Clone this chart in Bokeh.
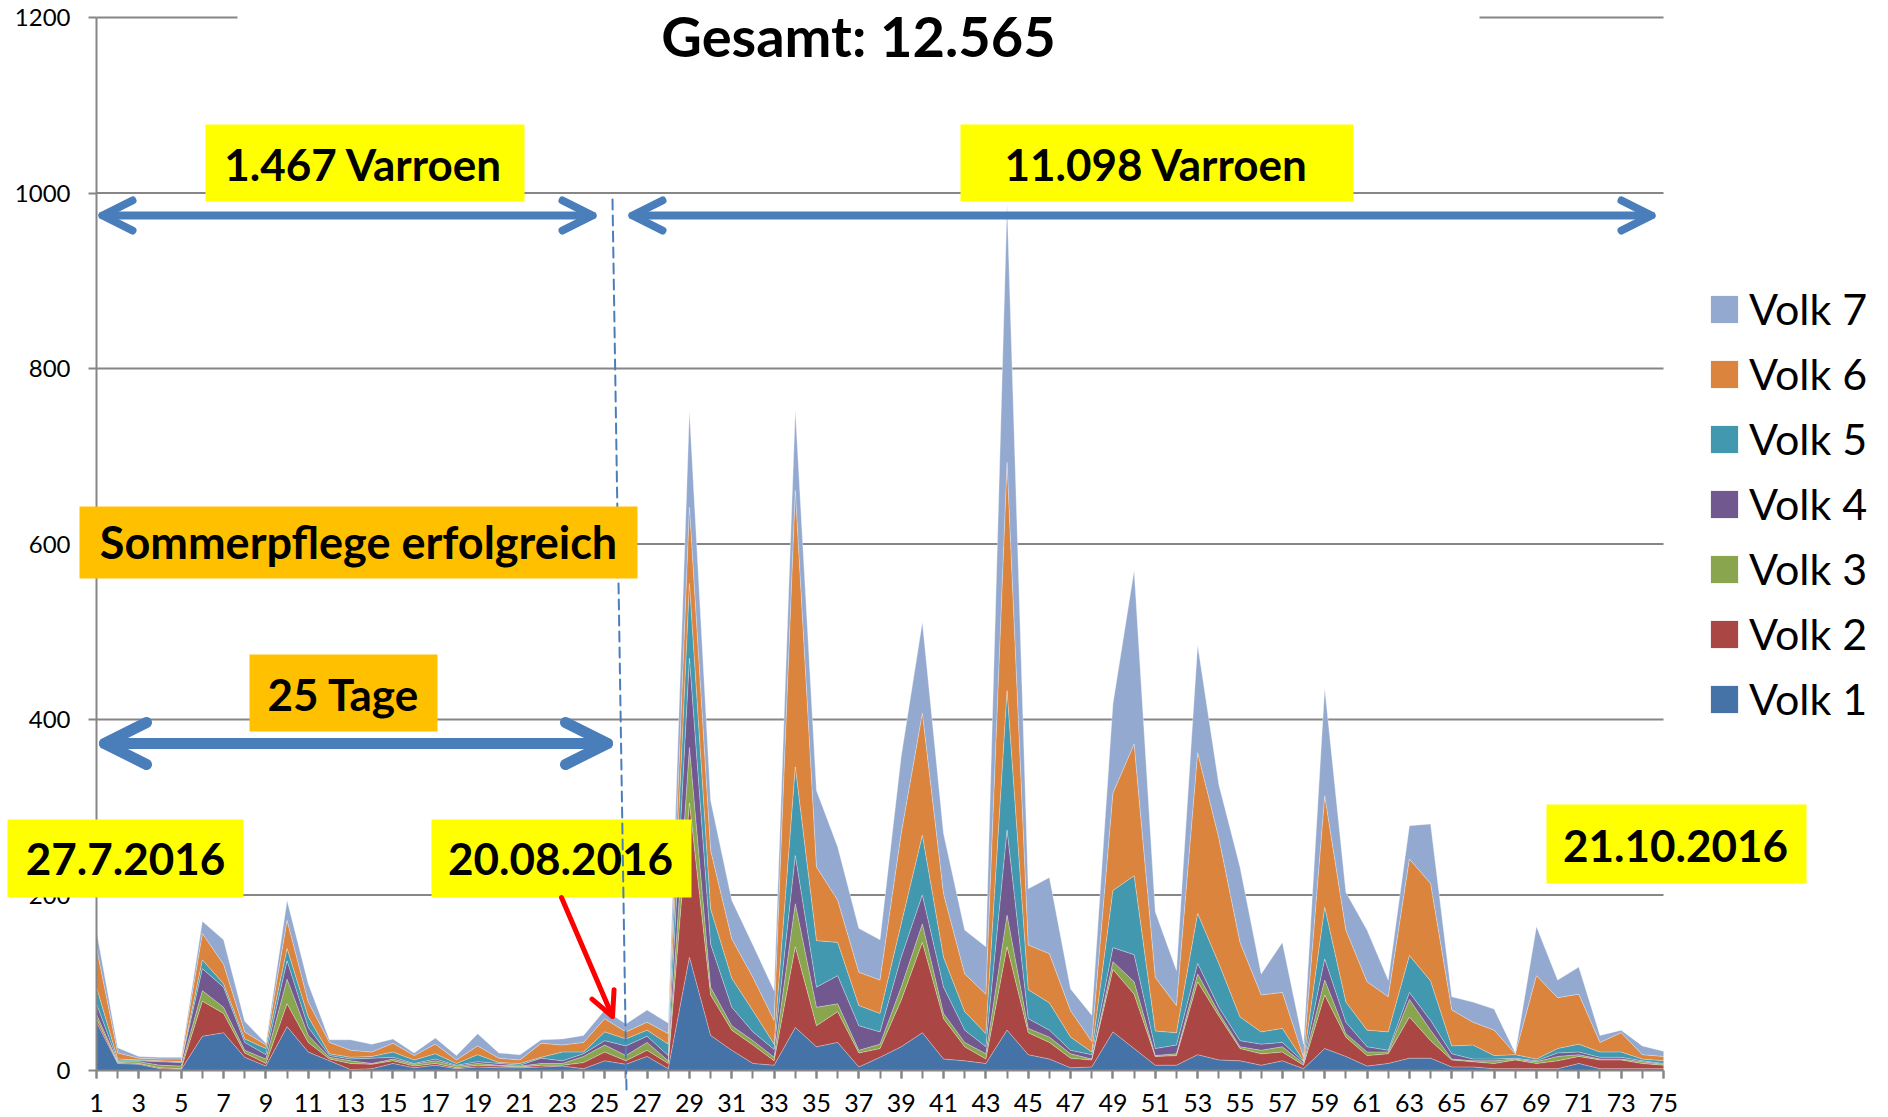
from bokeh.plotting import figure
from bokeh.models import (ColumnDataSource, Range1d, FixedTicker, Label, BoxAnnotation,
                          Arrow, OpenHead, Legend, LegendItem)
from bokeh.embed import file_html
from bokeh.resources import INLINE

# ---------------- data ----------------
days = list(range(1, 76))
tick_days = list(range(1, 76, 2))
y_ticks = [0, 200, 400, 600, 800, 1000, 1200]

volk1 = [55, 8, 7, 2, 1, 39, 43, 15, 5, 50,
         21, 11, 1, 2, 8, 3, 6, 2, 4, 3,
         3, 4, 5, 2, 11, 7, 16, 2, 129, 40,
         23, 8, 6, 49, 27, 32, 4, 15, 27, 43,
         13, 11, 8, 46, 18, 13, 3, 4, 44, 25,
         6, 6, 18, 12, 11, 6, 11, 2, 25, 16,
         5, 8, 14, 14, 4, 4, 2, 2, 2, 2,
         8, 2, 2, 2, 2]
volk2 = [4, 1, 1, 1, 1, 40, 22, 5, 3, 26,
         11, 2, 7, 5, 3, 2, 2, 1, 2, 2,
         1, 2, 1, 7, 10, 4, 7, 6, 176, 46,
         23, 21, 5, 92, 24, 35, 16, 10, 53, 103,
         46, 16, 5, 95, 25, 19, 11, 8, 71, 62,
         10, 11, 83, 50, 14, 13, 10, 4, 61, 22,
         12, 11, 47, 20, 8, 6, 6, 10, 6, 9,
         8, 10, 10, 6, 4]
volk3 = [5, 1, 2, 3, 3, 12, 7, 3, 5, 28,
         8, 2, 3, 1, 2, 2, 3, 2, 2, 1,
         1, 2, 2, 7, 8, 6, 9, 3, 63, 9,
         5, 5, 4, 49, 21, 9, 3, 5, 15, 21,
         6, 5, 6, 36, 5, 6, 5, 1, 9, 14,
         1, 2, 9, 4, 2, 4, 6, 2, 17, 4,
         4, 2, 20, 12, 1, 1, 3, 1, 2, 5,
         2, 1, 1, 2, 1]
volk4 = [12, 1, 1, 4, 4, 25, 23, 9, 5, 21,
         9, 2, 2, 6, 2, 1, 2, 1, 2, 2,
         1, 6, 3, 3, 5, 11, 7, 6, 102, 49,
         21, 10, 9, 55, 23, 32, 28, 14, 34, 33,
         30, 14, 8, 97, 11, 8, 4, 5, 16, 31,
         8, 10, 12, 6, 7, 7, 5, 2, 24, 13,
         6, 2, 8, 11, 6, 2, 2, 1, 1, 4,
         3, 2, 2, 1, 1]
volk5 = [19, 2, 1, 1, 1, 10, 4, 4, 7, 14,
         12, 2, 2, 2, 6, 4, 6, 2, 8, 1,
         2, 1, 10, 2, 10, 8, 7, 13, 85, 40,
         33, 24, 6, 101, 53, 38, 23, 21, 38, 68,
         34, 21, 15, 159, 33, 31, 15, 3, 65, 90,
         20, 14, 57, 50, 27, 14, 16, 1, 59, 23,
         19, 21, 42, 45, 9, 16, 4, 4, 2, 5,
         9, 6, 6, 2, 3]
volk6 = [45, 7, 2, 2, 3, 30, 22, 8, 4, 32,
         17, 13, 8, 5, 10, 5, 11, 4, 10, 5,
         4, 16, 8, 11, 15, 8, 9, 12, 87, 67,
         45, 38, 27, 315, 84, 48, 38, 38, 103, 139,
         72, 43, 45, 260, 51, 56, 30, 12, 111, 150,
         61, 31, 183, 143, 85, 42, 41, 4, 127, 82,
         55, 40, 110, 111, 41, 26, 29, 1, 95, 58,
         57, 11, 22, 5, 5]
volk7 = [19, 6, 2, 2, 2, 14, 28, 12, 2, 23,
         21, 3, 12, 9, 5, 3, 7, 5, 14, 6,
         6, 4, 7, 8, 10, 9, 14, 12, 110, 57,
         44, 37, 34, 92, 87, 61, 50, 46, 88, 104,
         69, 50, 54, 295, 64, 87, 25, 30, 102, 198,
         75, 40, 123, 61, 86, 24, 57, 15, 123, 43,
         59, 19, 38, 68, 15, 23, 24, 1, 56, 20,
         31, 8, 3, 10, 6]

series_names = ["Volk 1", "Volk 2", "Volk 3", "Volk 4", "Volk 5", "Volk 6", "Volk 7"]
series_keys = ["v1", "v2", "v3", "v4", "v5", "v6", "v7"]
colors = ["#4572A7", "#AA4643", "#89A54E", "#71588F", "#4198AF", "#DB843D", "#93A9CF"]

title_text = "Gesamt: 12.565"
text_before = "1.467 Varroen"
text_after = "11.098 Varroen"
text_summer = "Sommerpflege erfolgreich"
text_days = "25 Tage"
date_start = "27.7.2016"
date_treat = "20.08.2016"
date_end = "21.10.2016"

# -------------- layout helpers (page pixel -> data) --------------
W, H = 1888, 1117
X0, XS = 96.0, 21.176      # day 1 at x=96 px, px per day
Y0, YS = 1070.0, 0.8775    # value 0 at y=1070 px, px per unit


def dx(px):
    return 1 + (px - X0) / XS


def dy(py):
    return (Y0 - py) / YS


FONT = "Lato"
GRAY = "#868686"
BLUE = "#4A7EBB"
YELLOW = "#FFFF00"
ORANGE = "#FFC000"

p = figure(width=W, height=H, output_backend="svg", toolbar_location=None,
           x_range=Range1d(dx(0), dx(W)), y_range=Range1d(dy(H), dy(0)),
           min_border_left=0, min_border_right=0, min_border_top=0,
           min_border_bottom=0, title=None)
p.outline_line_color = None
p.background_fill_color = "white"
p.border_fill_color = "white"
p.xgrid.visible = False
p.ygrid.visible = False

# horizontal gridlines limited to the category span
grid_src = ColumnDataSource(dict(x0=[days[0]] * (len(y_ticks) - 1),
                                 x1=[days[-1]] * (len(y_ticks) - 1),
                                 y=y_ticks[1:]))
p.segment(x0="x0", y0="y", x1="x1", y1="y", source=grid_src,
          line_color=GRAY, line_width=2, level="underlay")

src = ColumnDataSource(dict(day=days, v1=volk1, v2=volk2, v3=volk3, v4=volk4,
                            v5=volk5, v6=volk6, v7=volk7))
areas = p.varea_stack(stackers=series_keys, x="day", color=colors, source=src)
p.vline_stack(stackers=series_keys, x="day", color="white", line_alpha=0.35,
              line_width=1, source=src)

# axes (fixed at day 1 / value 0 so the frame can use the whole canvas)
xa = p.xaxis[0]
xa.fixed_location = 0
xa.ticker = FixedTicker(ticks=tick_days, minor_ticks=days)
xa.bounds = (days[0], days[-1])
xa.axis_line_color = GRAY
xa.axis_line_width = 2
xa.major_tick_line_color = GRAY
xa.major_tick_line_width = 2
xa.major_tick_in = 0
xa.major_tick_out = 8
xa.minor_tick_line_color = GRAY
xa.minor_tick_line_width = 2
xa.minor_tick_in = 0
xa.minor_tick_out = 8
xa.major_label_text_font = FONT
xa.major_label_text_font_size = "25px"
xa.major_label_text_color = "black"
xa.major_label_standoff = 15

ya = p.yaxis[0]
ya.fixed_location = 1
ya.ticker = FixedTicker(ticks=y_ticks)
ya.bounds = (y_ticks[0], y_ticks[-1])
ya.axis_line_color = GRAY
ya.axis_line_width = 2
ya.major_tick_line_color = GRAY
ya.major_tick_line_width = 2
ya.major_tick_in = 0
ya.major_tick_out = 8
ya.minor_tick_line_color = None
ya.major_label_text_font = FONT
ya.major_label_text_font_size = "24px"
ya.major_label_text_color = "black"
ya.major_label_standoff = 18


def box(l, t, r, b, color):
    p.add_layout(BoxAnnotation(left=dx(l), right=dx(r), top=dy(t), bottom=dy(b),
                               fill_color=color, fill_alpha=1.0, line_color=None,
                               level="annotation"))


def label(text, cx, cy, size):
    p.add_layout(Label(x=dx(cx), y=dy(cy), text=text, text_font=FONT,
                       text_font_size=size, text_font_style="bold",
                       text_align="center", text_baseline="middle",
                       text_color="black"))


def arrow(x0, y0, x1, y1, color, width, head_size, both=True, dash="solid"):
    end = OpenHead(size=head_size, line_color=color, line_width=width,
                   line_cap="round", line_join="round") if head_size else None
    start = OpenHead(size=head_size, line_color=color, line_width=width,
                     line_cap="round", line_join="round") if (both and head_size) else None
    p.add_layout(Arrow(x_start=dx(x0), y_start=dy(y0), x_end=dx(x1), y_end=dy(y1),
                       line_color=color, line_width=width, line_cap="round",
                       line_dash=dash, start=start, end=end))


# title (white box hides the top gridline behind it)
box(237, 0, 1479, 56, "white")
label(title_text, 858, 35, "56px")

# counts
box(205, 124, 524, 201, YELLOW)
label(text_before, 363, 163, "44px")
box(960, 124, 1353, 201, YELLOW)
label(text_after, 1156, 163, "44px")
arrow(102, 215, 592, 215, BLUE, 8, 30)
arrow(632, 215, 1651, 215, BLUE, 8, 30)

# dates
box(7, 819, 243, 897, YELLOW)
label(date_start, 125, 858, "44px")
box(431, 819, 691, 897, YELLOW)
label(date_treat, 560, 858, "44px")

# treatment day marker
arrow(612, 199, 626, 1090, BLUE, 2, None, both=False, dash="10 6")

box(1546, 804, 1806, 883, YELLOW)
label(date_end, 1675, 845, "44px")

# summer care
box(79, 506, 637, 578, ORANGE)
label(text_summer, 358, 541, "45px")
box(249, 654, 437, 731, ORANGE)
label(text_days, 343, 693, "44px")
arrow(104, 743, 607, 743, BLUE, 11, 42)

# red pointer
arrow(561, 897, 612, 1016, "#FF0000", 5, 24, both=False)

# legend (top item = Volk 7)
items = [LegendItem(label=series_names[i], renderers=[areas[i]])
         for i in reversed(range(len(series_names)))]
legend = Legend(items=items, location=(1707, 393), orientation="vertical",
                glyph_width=34, glyph_height=34, label_standoff=8, spacing=14,
                padding=0, margin=0, border_line_color=None, background_fill_alpha=0,
                label_text_font=FONT, label_text_font_size="43px",
                label_text_color="black", label_height=34)
p.add_layout(legend)

open("out.html", "w").write(file_html(p, INLINE))
